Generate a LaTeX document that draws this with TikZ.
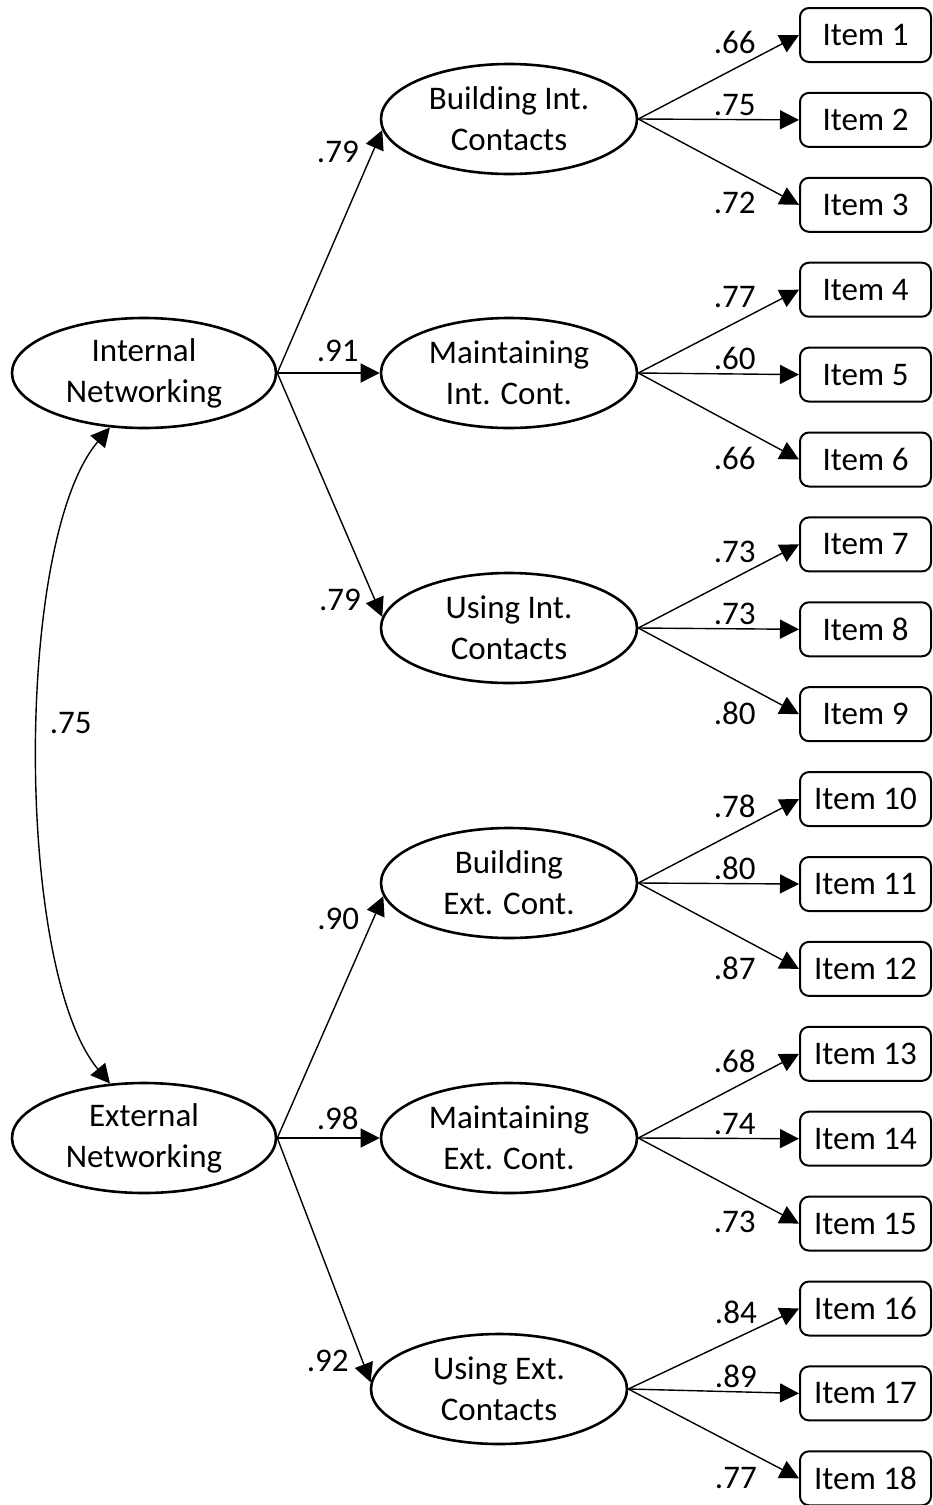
\documentclass[tikz,border=0pt]{standalone}
\usepackage{fontspec}
\setmainfont{Carlito}
\usetikzlibrary{arrows.meta,shapes.geometric}

\begin{document}
\begin{tikzpicture}[x=1pt,y=-1pt,>={Triangle[length=19pt,width=19pt]},
  font=\fontsize{33}{41}\selectfont,
  factor/.style={draw,ellipse,line width=2.6pt,minimum width=256pt,minimum height=110pt,inner sep=0pt,align=center},
  item/.style={draw,rounded corners=9pt,line width=2pt,minimum width=131pt,minimum height=54pt,inner sep=0pt},
  load/.style={->,line width=1.4pt}]
\useasboundingbox (0,0) rectangle (932,1505);
\node[factor,minimum width=264pt] (inw) at (144,373) {Internal\\Networking};
\node[factor,minimum width=264pt] (exw) at (144,1138) {External\\Networking};
\node[factor] (bic) at (509,119) {Building Int.\\Contacts};
\node[factor] (mic) at (509,373) {Maintaining\\Int. Cont.};
\node[factor] (uic) at (509,628) {Using Int.\\Contacts};
\node[factor] (bec) at (509,883) {Building\\Ext. Cont.};
\node[factor] (mec) at (509,1138) {Maintaining\\Ext. Cont.};
\node[factor] (uec) at (499,1389) {Using Ext.\\Contacts};
\node[item] (i1) at (865.5,35) {Item 1};
\node[item] (i2) at (865.5,119.9) {Item 2};
\node[item] (i3) at (865.5,204.8) {Item 3};
\node[item] (i4) at (865.5,289.7) {Item 4};
\node[item] (i5) at (865.5,374.6) {Item 5};
\node[item] (i6) at (865.5,459.5) {Item 6};
\node[item] (i7) at (865.5,544.4) {Item 7};
\node[item] (i8) at (865.5,629.3) {Item 8};
\node[item] (i9) at (865.5,714.2) {Item 9};
\node[item] (i10) at (865.5,799.1) {Item 10};
\node[item] (i11) at (865.5,884) {Item 11};
\node[item] (i12) at (865.5,968.9) {Item 12};
\node[item] (i13) at (865.5,1053.8) {Item 13};
\node[item] (i14) at (865.5,1138.7) {Item 14};
\node[item] (i15) at (865.5,1223.6) {Item 15};
\node[item] (i16) at (865.5,1308.5) {Item 16};
\node[item] (i17) at (865.5,1393.4) {Item 17};
\node[item] (i18) at (865.5,1478.3) {Item 18};
\draw[load] (inw.east) -- node[pos=.91,left=10pt]{.79} (bic.185);
\draw[load] (inw.east) -- node[pos=.59,above=7pt]{.91} (mic.west);
\draw[load] (inw.east) -- node[pos=.93,left=10pt]{.79} (uic.175);
\draw[load] (exw.east) -- node[pos=.905,left=10pt]{.90} (bec.186);
\draw[load] (exw.east) -- node[pos=.59,above=4pt]{.98} (mec.west);
\draw[load] (exw.east) -- node[pos=.914,left=10pt]{.92} (uec.177);
\draw[<->,line width=1.4pt] (inw.238) .. controls (14,540) and (15,970) .. node[pos=.46,right=7pt]{.75} (exw.122);
\draw[load] (bic.east) -- node[pos=.6,above=11pt]{.66} (i1.west);
\draw[load] (bic.east) -- node[pos=.6,above]{.75} (i2.west);
\draw[load] (bic.east) -- node[pos=.6,below=18pt]{.72} (i3.west);
\draw[load] (mic.east) -- node[pos=.6,above=11pt]{.77} (i4.west);
\draw[load] (mic.east) -- node[pos=.6,above]{.60} (i5.west);
\draw[load] (mic.east) -- node[pos=.6,below=18pt]{.66} (i6.west);
\draw[load] (uic.east) -- node[pos=.6,above=11pt]{.73} (i7.west);
\draw[load] (uic.east) -- node[pos=.6,above]{.73} (i8.west);
\draw[load] (uic.east) -- node[pos=.6,below=18pt]{.80} (i9.west);
\draw[load] (bec.east) -- node[pos=.6,above=11pt]{.78} (i10.west);
\draw[load] (bec.east) -- node[pos=.6,above]{.80} (i11.west);
\draw[load] (bec.east) -- node[pos=.6,below=18pt]{.87} (i12.west);
\draw[load] (mec.east) -- node[pos=.6,above=11pt]{.68} (i13.west);
\draw[load] (mec.east) -- node[pos=.6,above]{.74} (i14.west);
\draw[load] (mec.east) -- node[pos=.6,below=18pt]{.73} (i15.west);
\draw[load] (uec.east) -- node[pos=.63,above=11pt]{.84} (i16.west);
\draw[load] (uec.east) -- node[pos=.63,above]{.89} (i17.west);
\draw[load] (uec.east) -- node[pos=.63,below=18pt]{.77} (i18.west);
\end{tikzpicture}
\end{document}
